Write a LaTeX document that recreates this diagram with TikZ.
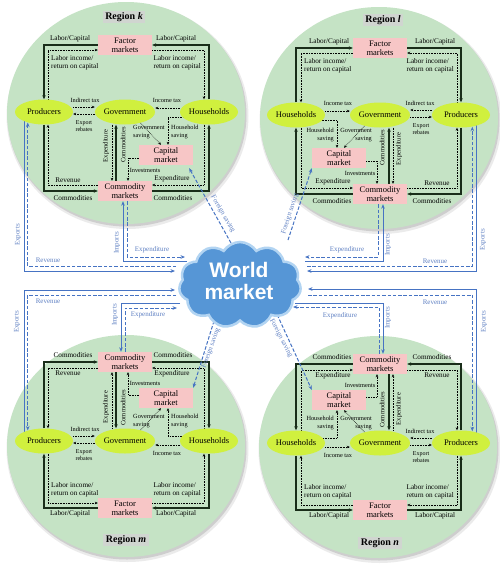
\documentclass[tikz,border=0pt]{standalone}
\usepackage{fontspec}
\setmainfont{Liberation Serif}
\newfontfamily\cloudfont{Liberation Sans}
\usetikzlibrary{shapes.geometric,shapes.symbols,arrows.meta}
\definecolor{regfill}{RGB}{197,227,197}
\definecolor{boxfill}{RGB}{247,198,198}
\definecolor{ellfill}{RGB}{208,240,62}
\definecolor{bline}{RGB}{70,115,195}
\definecolor{blabel}{RGB}{95,128,195}
\definecolor{cloudfill}{RGB}{86,150,214}
\definecolor{cloudglow}{RGB}{178,212,242}
\definecolor{solidline}{RGB}{25,45,25}
\definecolor{reglabfill}{RGB}{208,213,208}
\pgfdeclarelayer{bg}
\pgfdeclarelayer{lines}
\pgfsetlayers{bg,lines,main}
\tikzset{
  pbox/.style={rectangle, fill=boxfill, minimum width=54pt, minimum height=20pt, inner sep=0.5pt, align=center, font=\fontsize{8.5}{9.3}\selectfont},
  ell/.style={ellipse, fill=ellfill, minimum width=58pt, minimum height=25pt, inner sep=0pt, font=\fontsize{8.5}{9.3}\selectfont},
  lab/.style={inner sep=0pt, font=\fontsize{7.2}{8}\selectfont, align=left},
  mlab/.style={inner sep=0pt, font=\fontsize{6.6}{7.5}\selectfont},
  slab/.style={inner sep=0pt, font=\fontsize{6.3}{8}\selectfont},
  tlab/.style={inner sep=0pt, font=\fontsize{6}{6.6}\selectfont, align=center},
  blab/.style={inner sep=0pt, font=\fontsize{7}{8}\selectfont, text=blabel},
  reglab/.style={fill=reglabfill, inner xsep=2.5pt, inner ysep=1.5pt, font=\fontsize{10}{11}\selectfont\bfseries},
  sol/.style={draw=solidline, line width=1.1pt, -{Stealth[length=4pt,width=3.4pt]}},
  dot/.style={draw=black, densely dotted, line width=0.6pt, -{Stealth[length=3pt,width=2.6pt]}},
  bsol/.style={draw=bline, line width=1pt, -{Stealth[length=4.5pt,width=3.6pt]}},
  bdash/.style={draw=bline, line width=1pt, dash pattern=on 3.5pt off 1.8pt, -{Stealth[length=4.5pt,width=3.6pt]}},
}
% #1 prefix, #2 #3 origin, #4 xscale, #5 yscale, #6 angle for government saving
\newcommand\drawregion[6]{%
  \ifnum#4<0 \def\aE{west}\def\aW{east}\def\AL{right}\else\def\aE{east}\def\aW{west}\def\AL{left}\fi
  \ifnum#5<0 \def\aN{south}\def\aS{north}\else\def\aN{north}\def\aS{south}\fi
  \begin{scope}[shift={(#2,#3)}, xscale=#4, yscale=#5]
    \node[pbox] (#1F) at (0,-67) {Factor\\markets};
    \node[ell] (#1P) at (-81,0) {Producers};
    \node[ell, minimum width=55pt] (#1G) at (0,0) {Government};
    \node[ell] (#1H) at (84,0) {Households};
    \node[pbox] (#1K) at (41,43) {Capital\\market};
    \node[pbox] (#1C) at (0,79) {Commodity\\markets};
    \coordinate (#1a) at (-77,-62);
    \coordinate (#1b) at (79,-62);
    \coordinate (#1c) at (0,{-5*#5});
    \coordinate (#1d) at (0,{2*#5});
    \coordinate (#1e) at (0,-4);
    \coordinate (#1f) at (43,5);
    \coordinate (#1g) at (36,0);
    \coordinate (#1h) at (3,46);
    \coordinate (#1i) at (-13,0);
    \coordinate (#1j) at (-9,0);
    \coordinate (#1k) at (-77,73);
    \coordinate (#1l) at (79,73);
    \begin{pgfonlayer}{lines}
      \draw[sol] (#1F.\aW) -| (#1P.\aN);
      \draw[dot] (#1P.\aN -| #1a) |- (#1F.\aW |- #1a);
      \draw[sol] (#1H.\aN) |- (#1F.\aE);
      \draw[dot] (#1F.\aE |- #1b) -| (#1H.\aN -| #1b);
      \draw[dot] (#1P.\aE |- #1c) -- (#1G.\aW |- #1c);
      \draw[dot] (#1G.\aW |- #1d) -- (#1P.\aE |- #1d);
      \draw[dot] (#1H.\aW |- #1e) -- (#1G.\aE |- #1e);
      \draw[dot] (#1H |- #1f) -| (#1K.\aN -| #1f);
      \draw[dot] (#1G.#6) -- (#1K.\aN -| #1g);
      \draw[dot] (#1K.\aW |- #1h) -| (#1C.\aN -| #1h);
      \draw[dot] (#1G.\aS -| #1i) -- (#1C.\aN -| #1i);
      \draw[sol] (#1C.\aN -| #1j) -- (#1G.\aS -| #1j);
      \draw[sol] (#1P.\aS) |- (#1C.\aW);
      \draw[dot] (#1C.\aW |- #1k) -| (#1P.\aS -| #1k);
      \draw[sol] (#1C.\aE) -| (#1H.\aS);
      \draw[dot] (#1H.\aS -| #1l) |- (#1C.\aE |- #1l);
    \end{pgfonlayer}
    \node[lab] (#1L1) at (-55,-73) {Labor/Capital};
    \node[lab] (#1L2) at (51,-73) {Labor/Capital};
    \node[lab, anchor=\aW] (#1L3) at (-74,-49) {Labor income/\\return on capital};
    \node[lab, anchor=\aE] (#1L4) at (76,-49) {Labor income/\\return on capital};
    \node[slab] (#1L5) at (-40,{-11.5*#5}) {Indirect tax};
    \node[tlab] (#1L6) at (-41,{14*#5}) {Export\\rebates};
    \node[slab] (#1L7) at (42,-12) {Income tax};
    \node[slab, align=\AL, anchor=\aW] (#1L8) at (8,20) {Government\\saving};
    \node[slab, align=\AL, anchor=\aW] (#1L9) at (46,20) {Household\\saving};
    \node[slab] (#1L10) at (20,58) {Investments};
    \node[mlab, rotate=90] (#1L11) at (-19,34) {Expenditure};
    \node[mlab, rotate=90] (#1L12) at (-2,33) {Commodities};
    \node[lab] (#1L13) at (-57,68) {Revenue};
    \node[lab] (#1L14) at (-52,86) {Commodities};
    \node[lab] (#1L15) at (47,67) {Expenditure};
    \node[lab] (#1L16) at (48,86) {Commodities};
  \end{scope}}
\begin{document}
\begin{tikzpicture}[x=1pt,y=-1pt]
\useasboundingbox (0,0) rectangle (500,565);
\begin{pgfonlayer}{bg}
  \fill[white] (0,0) rectangle (500,565);
  \foreach \cx/\cy in {126/113, 379/118, 126/446, 378/447} {
    \fill[black, opacity=0.08] (\cx+1.5,\cy+3) ellipse [x radius=121pt, y radius=113pt];
    \fill[black, opacity=0.12] (\cx+1,\cy+2) ellipse [x radius=119.5pt, y radius=111.5pt];
    \fill[regfill] (\cx,\cy) ellipse [x radius=119pt, y radius=111pt];
  }
\end{pgfonlayer}

\drawregion{k}{125}{112}{1}{1}{-35}
\drawregion{l}{380}{115}{-1}{1}{215}
\drawregion{m}{125}{441}{1}{-1}{35}
\drawregion{n}{380}{443}{-1}{-1}{145}

\node[reglab] (kR) at (124,17) {Region \textit{k}};
\node[reglab] (lR) at (383,20) {Region \textit{l}};
\node[reglab] (mR) at (126,540) {Region \textit{m}};
\node[reglab] (nR) at (380,543) {Region \textit{n}};

% world market
\node[cloud, cloud puffs=11, cloud puff arc=115, cloud ignores aspect, minimum width=122pt, minimum height=86pt, fill=cloudfill, draw=cloudglow, line width=2.5pt] (W) at (240,285) {};
\node[text=white, align=center, font=\cloudfont\bfseries\fontsize{21}{22}\selectfont] (Wt) at (239,281) {World\\market};

\begin{pgfonlayer}{lines}
  % region k
  \draw[bsol] (kP.center -| 24,0) |- (175,271);
  \draw[bdash] (176,266) -| (kP.-147);
  \draw[bsol] (187,261) -| (kC.south -| 123,0);
  \draw[bdash] (kC.south -| 127,0) |- (185,257);
  \draw[bdash] (231,243) -- ([xshift=-4pt,yshift=-3pt]kK.south east);
  % region l
  \draw[bdash] (lC.south -| 378,0) |- (305,257);
  \draw[bsol] (305,261) -| (lC.south -| 383,0);
  \draw[bdash] (307,266) -| (lP.-46);
  \draw[bsol] (lP.center -| 476,0) |- (307,271);
  \draw[bdash] (288,240) -- (lK.south west);
  % region m
  \draw[bsol] (mP.center -| 24,0) |- (175,290);
  \draw[bdash] (176,295) -| (mP.147);
  \draw[bsol] (180,303) -| (mC.north -| 121,0);
  \draw[bdash] (mC.north -| 125,0) |- (177,308);
  \draw[bdash] (214,321) -- (mK.north east);
  % region n
  \draw[bsol] (nP.center -| 476,0) |- (308,289);
  \draw[bdash] (308,295) -| (nP.46);
  \draw[bsol] (295,303) -| (nC.north -| 383,0);
  \draw[bdash] (nC.north -| 379,0) |- (293,307);
  \draw[bdash] (275,310) -- (nK.north west);
\end{pgfonlayer}

% blue labels
\node[blab, rotate=90] (bk1) at (18,235) {Exports};
\node[blab] (bk2) at (48,260) {Revenue};
\node[blab, rotate=90] (bk3) at (117,243) {Imports};
\node[blab] (bk4) at (152,250) {Expenditure};
\node[blab, rotate=-60] (bk5) at (223,214) {Foreign saving};

\node[blab, rotate=90] (bl1) at (483,240) {Exports};
\node[blab] (bl2) at (435,261) {Revenue};
\node[blab, rotate=90] (bl3) at (388,245) {Imports};
\node[blab] (bl4) at (347,250) {Expenditure};
\node[blab, rotate=72] (bl5) at (290,214) {Foreign saving};

\node[blab, rotate=90] (bm1) at (17,322) {Exports};
\node[blab] (bm2) at (48,301) {Revenue};
\node[blab, rotate=90] (bm3) at (115,315) {Imports};
\node[blab] (bm4) at (148,315) {Expenditure};
\node[blab, rotate=70] (bm5) at (211,348) {Foreign saving};

\node[blab, rotate=90] (bn1) at (484,322) {Exports};
\node[blab] (bn2) at (435,302) {Revenue};
\node[blab, rotate=90] (bn3) at (388,318) {Imports};
\node[blab] (bn4) at (340,316) {Expenditure};
\node[blab, rotate=-62] (bn5) at (281,338) {Foreign saving};
\end{tikzpicture}
\end{document}
